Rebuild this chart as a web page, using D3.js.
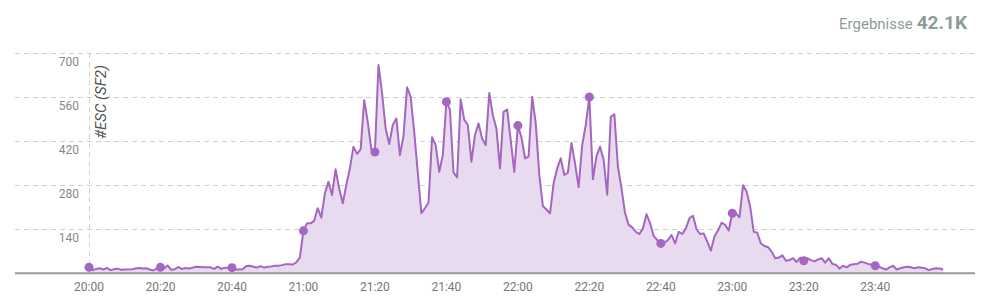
<!DOCTYPE html>
<html><head><meta charset="utf-8">
<script src="https://cdn.jsdelivr.net/npm/d3@7"></script>
<style>body{margin:0;background:#fff;}svg{display:block;font-family:Roboto,sans-serif;}</style>
</head><body><svg id="c" width="985" height="297"></svg>
<script>
const startTime = "20:00";
const tickLabels = ["20:00","20:20","20:40","21:00","21:20","21:40","22:00","22:20","22:40","23:00","23:20","23:40"];
const yTicks = [140, 280, 420, 560, 700];
const seriesName = "#ESC (SF2)";
const totalLabel = "Ergebnisse";
const totalValue = "42.1K";
// one value per minute, 20:00 .. 23:59
const values = [
19,10,14,16,12,17,10,13,15,11, 12,12,13,15,17,15,16,12,9,15,
19,15,25,11,13,20,14,17,15,18, 21,20,19,19,19,14,21,14,18,17,
18,12,12,13,23,24,21,18,23,18, 21,22,24,24,26,29,29,28,35,50,
135,159,159,167,207,177,254,291,249,331, 270,223,281,334,403,380,394,551,482,394,
386,663,573,461,411,472,493,376,437,592, 562,450,320,191,207,225,433,408,323,376,
546,520,320,305,553,488,472,355,440,477, 429,408,574,503,461,334,514,521,424,323,
470,433,366,371,562,477,313,214,203,191, 286,334,366,313,320,415,350,274,408,472,
561,299,373,403,361,250,498,506,339,270, 191,154,146,132,125,143,188,159,119,106,
95,97,106,122,95,132,125,143,175,183, 140,125,127,101,72,117,136,161,154,136,
191,191,178,280,260,212,132,129,95,87, 83,69,48,50,57,40,42,48,36,50,
40,48,42,38,44,48,34,48,30,27, 15,24,19,27,29,30,37,34,30,27,
24,21,16,12,19,24,12,16,19,21, 19,16,19,18,16,10,14,16,15,12
];

const svg = d3.select("#c");
const toMin = s => { const [h,m] = s.split(":").map(Number); return h*60+m; };
const t0 = toMin(startTime);
const data = values.map((v,i)=>({m:i, v}));

const x = d3.scaleLinear().domain([0, 180]).range([89, 732.3]);
const y = d3.scaleLinear().domain([0, 700]).range([273.3, 53.3]);
const lineColor = "#a466c0", fillColor = "#e9dbef";

// gridlines
svg.append("g").selectAll("line").data(yTicks).join("line")
  .attr("x1", 15).attr("x2", 975)
  .attr("y1", d=>Math.round(y(d))+0.5).attr("y2", d=>Math.round(y(d))+0.5)
  .attr("stroke", "#cfcfcf").attr("stroke-dasharray", "5,4");
// vertical dashed axis line
svg.append("line").attr("x1", 89.5).attr("x2", 89.5).attr("y1", y(700)).attr("y2", y(0))
  .attr("stroke", "#cfcfcf").attr("stroke-dasharray", "5,4");

// y labels
svg.append("g").selectAll("text").data(yTicks).join("text")
  .attr("x", 79).attr("y", d=>y(d)+12.5).attr("text-anchor","end")
  .attr("font-size", 12).attr("fill", "#888").text(d=>d);

// area & line
const area = d3.area().x(d=>x(d.m)).y0(y(0)).y1(d=>y(d.v));
const line = d3.line().x(d=>x(d.m)).y(d=>y(d.v));
svg.append("path").datum(data).attr("d", area).attr("fill", fillColor);
svg.append("path").datum(data).attr("d", line).attr("fill","none")
  .attr("stroke", lineColor).attr("stroke-width", 2).attr("stroke-linejoin","round");

// baseline
svg.append("line").attr("x1", 15).attr("x2", 975).attr("y1", y(0)).attr("y2", y(0))
  .attr("stroke", "#9a9a9a").attr("stroke-width", 2);

// markers at tick times
const markerData = tickLabels.map(s => { const m = toMin(s)-t0; return {m, v: values[m]}; });
svg.append("g").selectAll("circle").data(markerData).join("circle")
  .attr("cx", d=>x(d.m)).attr("cy", d=>y(d.v)).attr("r", 4.5).attr("fill", lineColor);

// x labels
svg.append("g").selectAll("text").data(tickLabels).join("text")
  .attr("x", s=>x(toMin(s)-t0)).attr("y", 290.5).attr("text-anchor","middle")
  .attr("font-size", 12).attr("fill", "#777").text(s=>s);

// series label
svg.append("text").attr("transform", `translate(106,102) rotate(-90)`)
  .attr("text-anchor","middle").attr("font-size", 15).attr("font-style","italic")
  .attr("fill","#555").text(seriesName);

// top-right totals
const numText = svg.append("text").attr("x", 967).attr("y", 29.3).attr("text-anchor","end")
  .attr("font-size", 19).attr("font-weight","bold").attr("fill","#8d9b9b").text(totalValue);
const numW = numText.node().getComputedTextLength();
svg.append("text").attr("x", 967 - numW - 4).attr("y", 29.3).attr("text-anchor","end")
  .attr("font-size", 15).attr("fill","#8d9b9b").text(totalLabel);
</script></body></html>
